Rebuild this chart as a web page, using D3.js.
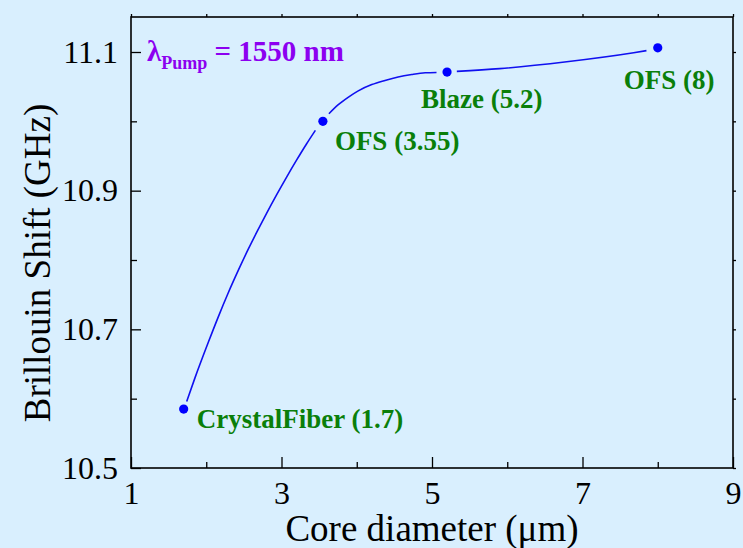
<!DOCTYPE html>
<html><head><meta charset="utf-8">
<script src="https://cdn.jsdelivr.net/npm/d3@7"></script>
<style>html,body{margin:0;padding:0;background:#d9effe;}svg{display:block;}</style>
</head><body><svg id="c" width="743" height="548"></svg>
<script>
// Data
const fibers = ["CrystalFiber", "OFS", "Blaze", "OFS"];
const coreDiam = [1.7, 3.55, 5.2, 8];
const shift = [10.585, 11.0, 11.071, 11.106];
const labels = ["CrystalFiber (1.7)", "OFS (3.55)", "Blaze (5.2)", "OFS (8)"];
const curveX1 = [1.74, 1.85, 2.03, 2.16, 2.29, 2.43, 2.56, 2.68, 2.80, 2.94, 3.07, 3.20, 3.33, 3.45];
const curveY1 = [10.596, 10.630, 10.682, 10.718, 10.752, 10.786, 10.816, 10.842, 10.867, 10.895, 10.920, 10.944, 10.967, 10.987];
const curveX2 = [3.63, 3.755, 3.89, 4.02, 4.20, 4.375, 4.55, 4.73, 4.91, 5.06];
const curveY2 = [11.011, 11.024, 11.035, 11.044, 11.053, 11.059, 11.064, 11.0675, 11.070, 11.0705];
const curveX3 = [5.33, 5.90, 6.79, 7.68, 7.85];
const curveY3 = [11.072, 11.076, 11.086, 11.099, 11.102];
const xTicks = [1, 3, 5, 7, 9];
const xMinor = [2, 4, 6, 8];
const yTicks = [10.5, 10.7, 10.9, 11.1];
const yMinor = [10.6, 10.8, 11.0];

const FONT = "'Liberation Serif','Times New Roman',Times,serif";
const svg = d3.select("#c");
const L = 131, R = 733, T = 17, B = 468;
const x = d3.scaleLinear().domain([1, 9]).range([L, R]);
const y = d3.scaleLinear().domain([10.5, 11.1]).range([B, 52]);

svg.append("rect").attr("width", 743).attr("height", 548).attr("fill", "#d9effe");

const g = svg.append("g");
g.append("g").attr("transform", `translate(0,${B})`)
  .call(d3.axisBottom(x).tickValues(xTicks).tickSize(-11).tickPadding(13).tickFormat(d3.format("d")));
g.append("g").attr("transform", `translate(0,${B})`)
  .call(d3.axisBottom(x).tickValues(xMinor).tickSize(-6).tickFormat(""));
g.append("g").attr("transform", `translate(${L},0)`)
  .call(d3.axisLeft(y).tickValues(yTicks).tickSize(-10).tickPadding(13).tickFormat(d3.format(".1f")));
g.append("g").attr("transform", `translate(${L},0)`)
  .call(d3.axisLeft(y).tickValues(yMinor).tickSize(-6).tickFormat(""));
g.append("g").attr("transform", `translate(0,${T})`)
  .call(d3.axisTop(x).tickValues(xTicks.concat(xMinor)).tickSize(3).tickFormat(""));
g.append("g").attr("transform", `translate(${R},0)`)
  .call(d3.axisRight(y).tickValues(yTicks.concat(yMinor)).tickSize(3).tickFormat(""));

g.selectAll(".domain").remove();
g.selectAll(".tick line").attr("stroke", "#000").attr("stroke-width", 1.3);
g.selectAll(".tick text").attr("font-family", FONT).attr("font-size", 32).attr("fill", "#000");

svg.append("rect").attr("x", L).attr("y", T).attr("width", R - L).attr("height", B - T)
  .attr("fill", "none").attr("stroke", "#000").attr("stroke-width", 1.6);

// curve segments
const line = d3.line().x(d => x(d[0])).y(d => y(d[1])).curve(d3.curveMonotoneX);
[[curveX1, curveY1], [curveX2, curveY2], [curveX3, curveY3]].forEach(([cx, cy]) => {
  svg.append("path").datum(cx.map((d, i) => [d, cy[i]]))
    .attr("d", line).attr("fill", "none").attr("stroke", "#1010f0").attr("stroke-width", 1.6);
});

// points
svg.selectAll("circle.pt").data(coreDiam).join("circle").attr("class", "pt")
  .attr("cx", d => x(d)).attr("cy", (d, i) => y(shift[i])).attr("r", 4.6).attr("fill", "#0000ff");

// labels
const offs = [[13, 19], [12, 29], [-26, 36], [-34, 41]];
svg.selectAll("text.lab").data(labels).join("text").attr("class", "lab")
  .attr("x", (d, i) => x(coreDiam[i]) + offs[i][0])
  .attr("y", (d, i) => y(shift[i]) + offs[i][1])
  .attr("font-family", FONT).attr("font-weight", "bold").attr("font-size", 27).attr("fill", "#0a7f0a")
  .text(d => d);

// lambda label
const lt = svg.append("text").attr("x", 147).attr("y", 61)
  .attr("font-family", FONT).attr("font-weight", "bold").attr("font-size", 29).attr("fill", "#8c00f0");
lt.append("tspan").text("λ");
lt.append("tspan").attr("font-size", 18).attr("dy", 8).text("Pump");
lt.append("tspan").attr("dy", -8).text(" = 1550 nm");

// axis titles
svg.append("text").attr("x", (L + R) / 2).attr("y", 541).attr("text-anchor", "middle")
  .attr("font-family", FONT).attr("font-size", 37).attr("fill", "#000").text("Core diameter (μm)");
svg.append("text").attr("transform", "translate(50,263) rotate(-90)").attr("text-anchor", "middle")
  .attr("font-family", FONT).attr("font-size", 37).attr("fill", "#000").text("Brillouin Shift (GHz)");
</script></body></html>
